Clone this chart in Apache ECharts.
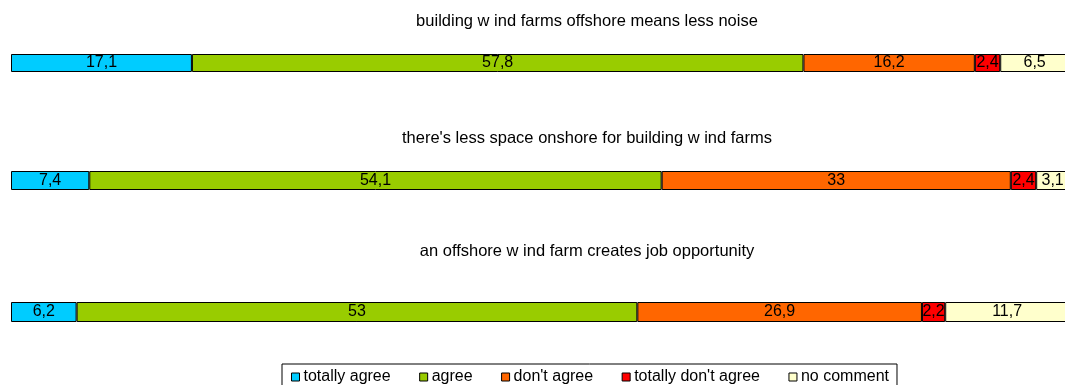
<!DOCTYPE html>
<html>
<head>
<meta charset="utf-8">
<script src="https://cdn.jsdelivr.net/npm/echarts@6/dist/echarts.min.js"></script>
<style>
html,body{margin:0;padding:0;background:#fff;}
#c{width:1065px;height:385px;}
</style>
</head>
<body>
<div id="c"></div>
<script>
const categories = ['totally agree', 'agree', "don't agree", "totally don't agree", 'no comment'];
const statements = [
  'building w ind farms offshore means less noise',
  "there's less space onshore for building w ind farms",
  'an offshore w ind farm creates job opportunity'
];
const row1 = [17.1, 57.8, 16.2, 2.4, 6.5];
const row2 = [7.4, 54.1, 33, 2.4, 3.1];
const row3 = [6.2, 53, 26.9, 2.2, 11.7];
const rows = [row1, row2, row3];

const colors = ['#00CCFF', '#99CC00', '#FF6600', '#FF0000', '#FFFFCC'];
const FONT = 'Liberation Sans, Arial, sans-serif';
const gridTops = [54, 171, 302];
const gridHeights = [18, 19, 20];
const titleY = [21, 138, 251];

const chart = echarts.init(document.getElementById('c'));
const grids = [], xAxes = [], yAxes = [], series = [], graphics = [];
rows.forEach((row, gi) => {
  grids.push({left: 11, top: gridTops[gi], width: 1058, height: gridHeights[gi], containLabel: false, outerBoundsMode: 'none'});
  xAxes.push({type: 'value', gridIndex: gi, min: 0, max: 100, show: false});
  yAxes.push({type: 'category', gridIndex: gi, data: [statements[gi]], show: false});
  row.forEach((v, si) => {
    series.push({
      type: 'bar', name: categories[si], stack: 's' + gi,
      xAxisIndex: gi, yAxisIndex: gi, barWidth: '100%',
      data: [v],
      itemStyle: {color: colors[si], borderColor: '#000', borderWidth: 1},
      label: {show: true, position: 'inside', color: '#000', fontFamily: FONT, fontSize: 16,
        formatter: p => String(p.value).replace('.', ',')},
      emphasis: {disabled: true}, animation: false
    });
  });
  graphics.push({type: 'text', x: 587, y: titleY[gi],
    style: {text: statements[gi], fill: '#000', font: '16.5px ' + FONT, textAlign: 'center', textVerticalAlign: 'middle'}});
});

chart.setOption({
  animation: false,
  color: colors,
  grid: grids, xAxis: xAxes, yAxis: yAxes, series: series,
  graphic: graphics,
  legend: {
    data: categories, left: 282, top: 364,
    icon: 'rect', itemWidth: 8, itemHeight: 8, itemGap: 28.5,
    borderColor: '#000', borderWidth: 1, padding: [5, 8, 5, 9],
    textStyle: {fontFamily: FONT, fontSize: 16, color: '#000', padding: [0, 0, 0, -1]},
    itemStyle: {borderColor: '#000', borderWidth: 1},
    selectedMode: false
  }
});
</script>
</body>
</html>
